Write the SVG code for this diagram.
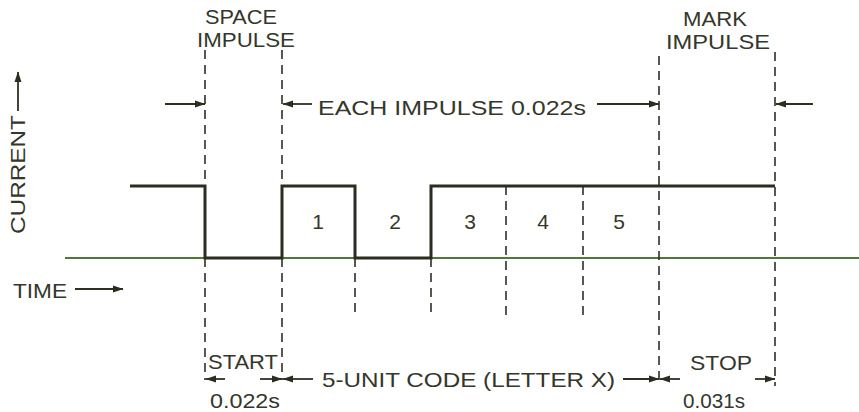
<svg xmlns="http://www.w3.org/2000/svg" width="859" height="412" viewBox="0 0 859 412">
<defs>
<style>
.t{font-family:"Liberation Sans",Arial,sans-serif;font-size:21px;fill:#34372a;}
.d{stroke:#2e3024;stroke-width:1.6;stroke-dasharray:9 6;fill:none;}
.s{stroke:#2a2d1f;stroke-width:3;fill:none;stroke-linejoin:miter;}
.a{stroke:#2e3024;stroke-width:1.8;fill:none;marker-end:url(#ah);}
</style>
<marker id="ah" markerWidth="11" markerHeight="8" refX="10" refY="4" orient="auto" markerUnits="userSpaceOnUse">
<path d="M0,0.5 L10.5,4 L0,7.5 z" fill="#2a2d1f"/>
</marker>
</defs>
<rect width="859" height="412" fill="#ffffff"/>
<g id="baseline">
<line x1="65" y1="258" x2="859" y2="258" stroke="#4f7a35" stroke-width="2"/>
</g>
<g id="guides">
<line class="d" x1="205" y1="50" x2="205" y2="186"/>
<line class="d" x1="205" y1="258" x2="205" y2="380"/>
<line class="d" x1="282" y1="50" x2="282" y2="186"/>
<line class="d" x1="282" y1="258" x2="282" y2="380"/>
<line class="d" x1="355" y1="258" x2="355" y2="316"/>
<line class="d" x1="431" y1="258" x2="431" y2="316"/>
<line class="d" x1="506" y1="186" x2="506" y2="316"/>
<line class="d" x1="583" y1="186" x2="583" y2="316"/>
<line class="d" x1="659" y1="56" x2="659" y2="386"/>
<line class="d" x1="775" y1="52" x2="775" y2="386"/>
</g>
<g id="signal">
<polyline class="s" points="130,186 205,186 205,258 282,258 282,186 355,186 355,258 431,258 431,186 775,186"/>
</g>
<g id="connectors">
<line class="a" x1="165" y1="104" x2="205" y2="104"/>
<line class="a" x1="312" y1="104" x2="283" y2="104"/>
<line class="a" x1="597" y1="104" x2="659" y2="104"/>
<line class="a" x1="813" y1="104" x2="776" y2="104"/>
<line class="a" x1="225" y1="379" x2="206" y2="379"/>
<line class="a" x1="260" y1="379" x2="282" y2="379"/>
<line class="a" x1="313" y1="379" x2="283" y2="379"/>
<line class="a" x1="623" y1="379" x2="659" y2="379"/>
<line class="a" x1="680" y1="379" x2="660" y2="379"/>
<line class="a" x1="755" y1="379" x2="775" y2="379"/>
<line class="a" x1="75" y1="289" x2="123" y2="289"/>
<line class="a" x1="18" y1="111" x2="18" y2="72"/>
</g>
<g id="labels">
<text class="t" x="205" y="24" textLength="72" lengthAdjust="spacingAndGlyphs">SPACE</text>
<text class="t" x="197" y="47" textLength="98" lengthAdjust="spacingAndGlyphs">IMPULSE</text>
<text class="t" x="683" y="26" textLength="64" lengthAdjust="spacingAndGlyphs">MARK</text>
<text class="t" x="666" y="49" textLength="104" lengthAdjust="spacingAndGlyphs">IMPULSE</text>
<text class="t" x="318" y="115" textLength="268" lengthAdjust="spacingAndGlyphs">EACH IMPULSE 0.022s</text>
<text class="t" transform="translate(25,234) rotate(-90)" textLength="119" lengthAdjust="spacingAndGlyphs">CURRENT</text>
<text class="t" x="13" y="298" textLength="54" lengthAdjust="spacingAndGlyphs">TIME</text>
<text class="t" x="318" y="229" text-anchor="middle">1</text>
<text class="t" x="395" y="229" text-anchor="middle">2</text>
<text class="t" x="470" y="229" text-anchor="middle">3</text>
<text class="t" x="543" y="229" text-anchor="middle">4</text>
<text class="t" x="619" y="229" text-anchor="middle">5</text>
<text class="t" x="208" y="369" textLength="70" lengthAdjust="spacingAndGlyphs">START</text>
<text class="t" x="210" y="408" textLength="70" lengthAdjust="spacingAndGlyphs">0.022s</text>
<text class="t" x="322" y="387" textLength="293" lengthAdjust="spacingAndGlyphs">5-UNIT CODE (LETTER X)</text>
<text class="t" x="690" y="370" textLength="62" lengthAdjust="spacingAndGlyphs">STOP</text>
<text class="t" x="683" y="408" textLength="62" lengthAdjust="spacingAndGlyphs">0.031s</text>
</g>
</svg>
